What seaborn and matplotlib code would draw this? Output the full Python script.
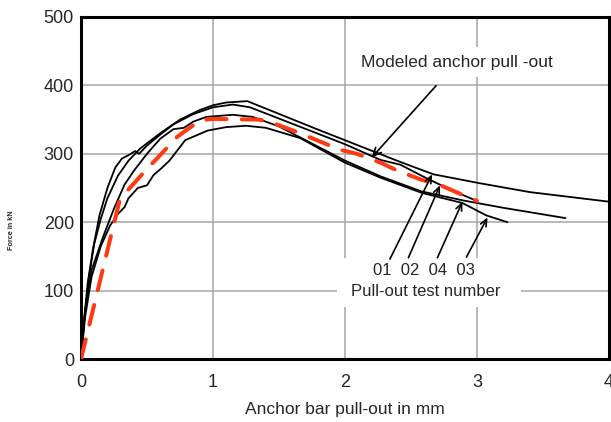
import matplotlib
matplotlib.use("Agg")
import matplotlib.pyplot as plt
from matplotlib.patches import Rectangle
from matplotlib.ticker import MultipleLocator
import seaborn as sns
import pandas as pd

# Pull-out test measurements: displacement (mm) and force (kN)
disp_01 = [0, 0.03, 0.06, 0.10, 0.15, 0.20, 0.28, 0.36, 0.45, 0.60, 0.75, 0.90, 1.00, 1.10, 1.26,
           1.80, 2.42, 2.67, 3.02, 3.40, 4.00]
force_01 = [0, 65, 120, 168, 205, 235, 268, 290, 308, 330, 350, 364, 371, 375, 377,
            335, 288, 270, 257, 244, 230]

disp_02 = [0, 0.02, 0.05, 0.09, 0.14, 0.20, 0.26, 0.31, 0.36, 0.41, 0.44, 0.50, 0.60, 0.70, 0.85,
           1.00, 1.15, 1.28, 1.60, 2.00, 2.27, 2.42, 2.60, 2.75, 2.89, 3.00]
force_02 = [0, 50, 110, 160, 210, 250, 280, 293, 298, 304, 300, 312, 328, 343, 358,
            368, 372, 368, 344, 314, 291, 284, 266, 252, 240, 231]

disp_04 = [0, 0.03, 0.08, 0.17, 0.25, 0.33, 0.40, 0.50, 0.60, 0.70, 0.78, 0.85, 0.95, 1.15,
           1.30, 1.50, 1.70, 2.00, 2.27, 2.58, 2.89, 3.20, 3.67]
force_04 = [0, 70, 130, 180, 220, 255, 275, 300, 322, 336, 338, 347, 354, 357,
            354, 340, 320, 290, 267, 245, 232, 221, 206]

disp_03 = [0, 0.03, 0.08, 0.15, 0.22, 0.28, 0.33, 0.36, 0.43, 0.50, 0.55, 0.61, 0.67, 0.79,
           0.96, 1.10, 1.25, 1.40, 1.66, 2.00, 2.27, 2.58, 2.89, 3.07, 3.23]
force_03 = [0, 60, 120, 165, 195, 212, 222, 235, 250, 254, 269, 279, 290, 320,
            334, 339, 341, 338, 323, 287, 265, 243, 228, 210, 200]

# Numerical model of the anchor pull-out
disp_model = [0, 0.29, 0.36, 0.51, 0.58, 0.73, 0.83, 0.90, 1.00, 1.35, 1.455, 1.66, 1.76, 1.96,
              2.09, 2.27, 2.39, 2.58, 2.70, 2.89, 3.00]
force_model = [0, 230, 248, 280, 294, 325, 339, 349, 351, 350, 345, 330, 322, 306,
               300, 287, 276, 262, 256, 240, 231]

tests = {"01": (disp_01, force_01), "02": (disp_02, force_02),
         "04": (disp_04, force_04), "03": (disp_03, force_03)}
test_df = pd.concat(
    [pd.DataFrame({"test": k, "disp": d, "force": f}) for k, (d, f) in tests.items()],
    ignore_index=True)
model_df = pd.DataFrame({"disp": disp_model, "force": force_model})

sns.set_style("white")
plt.rcParams["font.family"] = ["Liberation Sans", "DejaVu Sans"]

fig = plt.figure(figsize=(6.11, 4.22), dpi=100)
ax = fig.add_axes([81 / 611, 1 - 359 / 422, 528 / 611, 342 / 422])

for name, grp in test_df.groupby("test", sort=False):
    sns.lineplot(data=grp, x="disp", y="force", sort=False, estimator=None,
                 color="black", linewidth=1.3, ax=ax, zorder=3)

sns.lineplot(data=model_df, x="disp", y="force", sort=False, estimator=None,
             color="#ff3a12", linewidth=2.9, linestyle=(0, (5.0, 3.8)),
             dash_capstyle="round", ax=ax, zorder=4)

ax.set_xlim(0, 4)
ax.set_ylim(0, 500)
ax.xaxis.set_major_locator(MultipleLocator(1))
ax.xaxis.set_minor_locator(MultipleLocator(0.5))
ax.yaxis.set_major_locator(MultipleLocator(100))
ax.yaxis.set_minor_locator(MultipleLocator(50))
ax.set_axisbelow(True)
ax.grid(True, which="major", color="#a6a6a6", linewidth=1.1)
ax.tick_params(which="both", direction="in", length=4, width=1.5, color="black",
               labelsize=13, top=False, right=False)
ax.tick_params(axis="x", which="both", pad=11)
ax.tick_params(axis="y", which="both", pad=5)
for sp in ax.spines.values():
    sp.set_visible(True)
    sp.set_color("black")
    sp.set_linewidth(2.2)

ax.set_xlabel("Anchor bar pull-out in mm", fontsize=12.5, labelpad=8)
ax.set_ylabel("")
fig.text(12 / 611, 1 - 230 / 422, "Force in kN", rotation=90, fontsize=5.2,
         fontweight="bold", ha="center", va="center")

# Labels for the model and the individual tests
ax.annotate("Modeled anchor pull -out", xy=(2.2, 294), xytext=(2.85, 434),
            ha="center", va="center", fontsize=12.5, zorder=5,
            bbox=dict(fc="white", ec="none", boxstyle="square,pad=0.45"),
            arrowprops=dict(arrowstyle="->,head_length=0.5,head_width=0.22",
                            lw=1.2, color="black", shrinkA=8, shrinkB=0))

ax.add_patch(Rectangle((1.94, 76), 1.39, 72, facecolor="white", edgecolor="none", zorder=1))
ax.text(2.60, 130, "01  02  04  03", ha="center", va="center", fontsize=12, zorder=5)
ax.text(2.61, 98, "Pull-out test number", ha="center", va="center", fontsize=12, zorder=5)

arrow_tails = {"01": (2.34, 146), "02": (2.48, 148), "04": (2.70, 148), "03": (2.92, 149)}
arrow_tips = {"01": (2.66, 270), "02": (2.72, 254), "04": (2.89, 230), "03": (3.08, 207)}
for k in arrow_tails:
    ax.annotate("", xy=arrow_tips[k], xytext=arrow_tails[k], zorder=5,
                arrowprops=dict(arrowstyle="->,head_length=0.5,head_width=0.22",
                                lw=1.2, color="black", shrinkA=0, shrinkB=0))

fig.savefig("out.png", dpi=100)
